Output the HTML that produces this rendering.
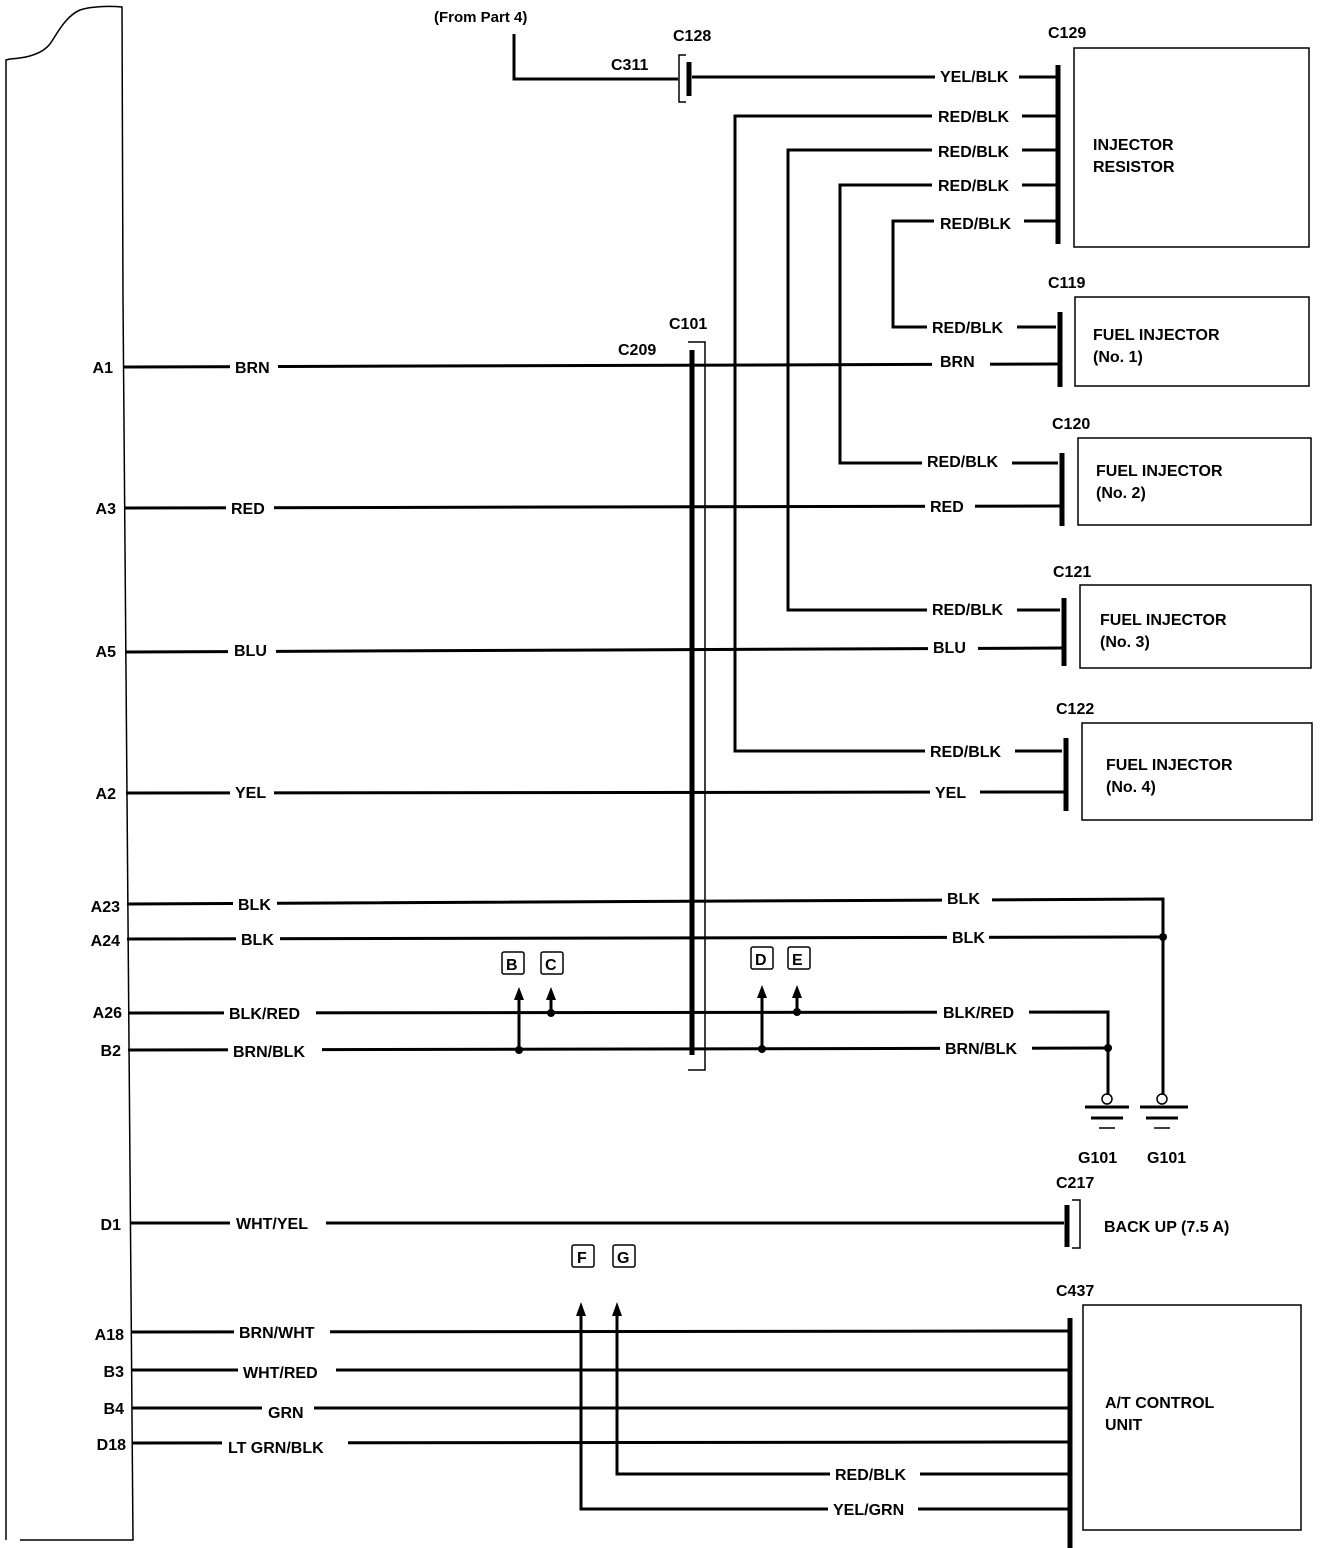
<!DOCTYPE html>
<html><head><style>
html,body{margin:0;padding:0;background:#fff}
svg{display:block}
text{font-family:"Liberation Sans",sans-serif;font-weight:bold;font-size:16px;fill:#000}
.w{stroke:#000;stroke-width:3;fill:none}
.t{stroke:#000;stroke-width:1.5;fill:none}
.b{stroke:#000;stroke-width:5;fill:none}
.l{fill:#fff;stroke:none}
</style></head><body>
<svg width="1328" height="1548" viewBox="0 0 1328 1548" xmlns="http://www.w3.org/2000/svg">
<!-- ECU outline -->
<path class="t" d="M6,1540 L6,60 L10,59 C28,58 42,54 50,44 C58,32 66,16 80,10 C92,6 110,6 122,7 L123,300 L133,1540 L20,1540"/>

<!-- Top -->
<text x="434" y="22" style="font-size:15px">(From Part 4)</text>
<path class="w" d="M514,34 L514,79 L678,79"/>
<text x="611" y="70">C311</text>
<text x="673" y="41">C128</text>
<path class="t" d="M686,55 L679,55 L679,102 L686,102"/>
<line class="b" x1="689" y1="62" x2="689" y2="96"/>
<path class="w" d="M692,77 L1056,77"/>
<rect class="l" x="935" y="66" width="84" height="20"/>
<text x="940" y="82">YEL/BLK</text>

<!-- C129 -->
<text x="1048" y="38">C129</text>
<line class="b" x1="1058" y1="65" x2="1058" y2="244"/>
<path class="t" d="M1074,48 L1309,48 L1309,247 L1074,247 Z"/>
<text x="1093" y="150">INJECTOR</text>
<text x="1093" y="172">RESISTOR</text>

<path class="w" d="M1056,116 L735,116 L735,751 L1062,751"/>
<path class="w" d="M1056,150 L788,150 L788,610 L1060,610"/>
<path class="w" d="M1056,185 L840,185 L840,463 L1058,463"/>
<path class="w" d="M1056,221 L893,221 L893,327 L1056,327"/>
<rect class="l" x="932" y="106" width="90" height="20"/>
<text x="938" y="122">RED/BLK</text>
<rect class="l" x="932" y="140" width="90" height="20"/>
<text x="938" y="157">RED/BLK</text>
<rect class="l" x="932" y="175" width="90" height="20"/>
<text x="938" y="191">RED/BLK</text>
<rect class="l" x="934" y="211" width="90" height="20"/>
<text x="940" y="229">RED/BLK</text>
<rect class="l" x="927" y="317" width="90" height="20"/>
<text x="932" y="333">RED/BLK</text>
<rect class="l" x="922" y="452" width="90" height="20"/>
<text x="927" y="467">RED/BLK</text>
<rect class="l" x="927" y="598" width="90" height="20"/>
<text x="932" y="615">RED/BLK</text>
<rect class="l" x="925" y="740" width="90" height="20"/>
<text x="930" y="757">RED/BLK</text>

<!-- Injectors -->
<text x="1048" y="288">C119</text>
<line class="b" x1="1060" y1="312" x2="1060" y2="387"/>
<path class="t" d="M1075,297 L1309,297 L1309,386 L1075,386 Z"/>
<text x="1093" y="340">FUEL INJECTOR</text>
<text x="1093" y="362">(No. 1)</text>

<text x="1052" y="429">C120</text>
<line class="b" x1="1062" y1="453" x2="1062" y2="526"/>
<path class="t" d="M1078,438 L1311,438 L1311,525 L1078,525 Z"/>
<text x="1096" y="476">FUEL INJECTOR</text>
<text x="1096" y="498">(No. 2)</text>

<text x="1053" y="577">C121</text>
<line class="b" x1="1064" y1="598" x2="1064" y2="666"/>
<path class="t" d="M1080,585 L1311,585 L1311,668 L1080,668 Z"/>
<text x="1100" y="625">FUEL INJECTOR</text>
<text x="1100" y="647">(No. 3)</text>

<text x="1056" y="714">C122</text>
<line class="b" x1="1066" y1="738" x2="1066" y2="811"/>
<path class="t" d="M1082,723 L1312,723 L1312,820 L1082,820 Z"/>
<text x="1106" y="770">FUEL INJECTOR</text>
<text x="1106" y="792">(No. 4)</text>

<!-- C101 -->
<text x="669" y="329">C101</text>
<text x="618" y="355">C209</text>
<path class="t" d="M688,342 L705,342 L705,1070 L688,1070"/>
<line class="b" x1="692" y1="350" x2="692" y2="1055"/>

<!-- Main wires -->
<path class="w" d="M123,367 L1058,364"/>
<path class="w" d="M124,508 L1060,506"/>
<path class="w" d="M125,652 L1062,648"/>
<path class="w" d="M126,793 L1064,792"/>
<path class="w" d="M127,904 L1163,899 L1163,1095"/>
<path class="w" d="M127,939 L1163,937"/>
<path class="w" d="M128,1013 L1108,1012 L1108,1095"/>
<path class="w" d="M128,1050 L1108,1048"/>
<circle cx="1163" cy="937" r="4"/>
<circle cx="1108" cy="1048" r="4"/>

<g>
<rect class="l" x="230" y="357" width="48" height="20"/><text x="235" y="373">BRN</text>
<rect class="l" x="932" y="354" width="58" height="20"/><text x="940" y="367">BRN</text>
<rect class="l" x="226" y="498" width="48" height="20"/><text x="231" y="514">RED</text>
<rect class="l" x="925" y="496" width="50" height="20"/><text x="930" y="512">RED</text>
<rect class="l" x="228" y="642" width="48" height="20"/><text x="234" y="656">BLU</text>
<rect class="l" x="928" y="638" width="50" height="20"/><text x="933" y="653">BLU</text>
<rect class="l" x="230" y="783" width="44" height="20"/><text x="235" y="798">YEL</text>
<rect class="l" x="930" y="782" width="50" height="20"/><text x="935" y="798">YEL</text>
<rect class="l" x="233" y="894" width="44" height="20"/><text x="238" y="910">BLK</text>
<rect class="l" x="942" y="889" width="50" height="20"/><text x="947" y="904">BLK</text>
<rect class="l" x="236" y="929" width="44" height="20"/><text x="241" y="945">BLK</text>
<rect class="l" x="947" y="927" width="42" height="20"/><text x="952" y="943">BLK</text>
<rect class="l" x="224" y="1003" width="92" height="20"/><text x="229" y="1019">BLK/RED</text>
<rect class="l" x="937" y="1002" width="92" height="20"/><text x="943" y="1018">BLK/RED</text>
<rect class="l" x="228" y="1040" width="94" height="20"/><text x="233" y="1057">BRN/BLK</text>
<rect class="l" x="940" y="1038" width="92" height="20"/><text x="945" y="1054">BRN/BLK</text>
</g>

<!-- pin labels -->
<g text-anchor="end">
<text x="113" y="373">A1</text>
<text x="116" y="514">A3</text>
<text x="116" y="657">A5</text>
<text x="116" y="799">A2</text>
<text x="120" y="912">A23</text>
<text x="120" y="946">A24</text>
<text x="122" y="1018">A26</text>
<text x="121" y="1056">B2</text>
<text x="121" y="1230">D1</text>
<text x="124" y="1340">A18</text>
<text x="124" y="1377">B3</text>
<text x="124" y="1414">B4</text>
<text x="126" y="1450">D18</text>
</g>

<!-- arrows B C D E -->
<g>
<line class="w" x1="519" y1="1050" x2="519" y2="996"/><path d="M514,1000 L519,987 L524,1000 Z"/>
<line class="w" x1="551" y1="1013" x2="551" y2="996"/><path d="M546,1000 L551,987 L556,1000 Z"/>
<circle cx="519" cy="1050" r="4"/><circle cx="551" cy="1013" r="4"/>
<line class="w" x1="762" y1="1049" x2="762" y2="994"/><path d="M757,998 L762,985 L767,998 Z"/>
<line class="w" x1="797" y1="1012" x2="797" y2="994"/><path d="M792,998 L797,985 L802,998 Z"/>
<circle cx="762" cy="1049" r="4"/><circle cx="797" cy="1012" r="4"/>
<rect class="t" x="502" y="952" width="22" height="22" rx="2"/><text x="506" y="970">B</text>
<rect class="t" x="541" y="952" width="22" height="22" rx="2"/><text x="545" y="970">C</text>
<rect class="t" x="751" y="947" width="22" height="22" rx="2"/><text x="755" y="965">D</text>
<rect class="t" x="788" y="947" width="22" height="22" rx="2"/><text x="792" y="965">E</text>
</g>

<!-- grounds -->
<g>
<circle class="t" cx="1107" cy="1099" r="5"/>
<line class="w" x1="1085" y1="1107" x2="1129" y2="1107"/>
<line class="w" x1="1091" y1="1118" x2="1123" y2="1118"/>
<line class="t" x1="1099" y1="1128" x2="1115" y2="1128"/>
<circle class="t" cx="1162" cy="1099" r="5"/>
<line class="w" x1="1140" y1="1107" x2="1188" y2="1107"/>
<line class="w" x1="1146" y1="1118" x2="1178" y2="1118"/>
<line class="t" x1="1154" y1="1128" x2="1170" y2="1128"/>
<text x="1078" y="1163">G101</text>
<text x="1147" y="1163">G101</text>
</g>

<!-- D1 -->
<path class="w" d="M131,1223 L1064,1223"/>
<rect class="l" x="230" y="1213" width="96" height="20"/><text x="236" y="1229">WHT/YEL</text>
<text x="1056" y="1188">C217</text>
<line class="b" x1="1067" y1="1205" x2="1067" y2="1247"/>
<path class="t" d="M1072,1200 L1080,1200 L1080,1248 L1072,1248"/>
<text x="1104" y="1232">BACK UP (7.5 A)</text>

<!-- AT -->
<rect class="t" x="572" y="1245" width="22" height="22" rx="2"/><text x="577" y="1263">F</text>
<rect class="t" x="613" y="1245" width="22" height="22" rx="2"/><text x="617" y="1263">G</text>
<path class="w" d="M581,1312 L581,1509 L1068,1509"/><path d="M576,1316 L581,1302 L586,1316 Z"/>
<path class="w" d="M617,1312 L617,1474 L1068,1474"/><path d="M612,1316 L617,1302 L622,1316 Z"/>
<path class="w" d="M132,1332 L1068,1331"/>
<path class="w" d="M132,1370 L1068,1370"/>
<path class="w" d="M132,1408 L1068,1408"/>
<path class="w" d="M133,1443 L1068,1442"/>
<rect class="l" x="234" y="1322" width="96" height="20"/><text x="239" y="1338">BRN/WHT</text>
<rect class="l" x="238" y="1360" width="98" height="20"/><text x="243" y="1378">WHT/RED</text>
<rect class="l" x="262" y="1398" width="52" height="20"/><text x="268" y="1418">GRN</text>
<rect class="l" x="222" y="1433" width="126" height="20"/><text x="228" y="1453">LT GRN/BLK</text>
<rect class="l" x="830" y="1464" width="90" height="20"/><text x="835" y="1480">RED/BLK</text>
<rect class="l" x="828" y="1499" width="90" height="20"/><text x="833" y="1515">YEL/GRN</text>
<text x="1056" y="1296">C437</text>
<line class="b" x1="1070" y1="1318" x2="1070" y2="1555"/>
<path class="t" d="M1083,1305 L1301,1305 L1301,1530 L1083,1530 Z"/>
<text x="1105" y="1408">A/T CONTROL</text>
<text x="1105" y="1430">UNIT</text>
</svg>
</body></html>
